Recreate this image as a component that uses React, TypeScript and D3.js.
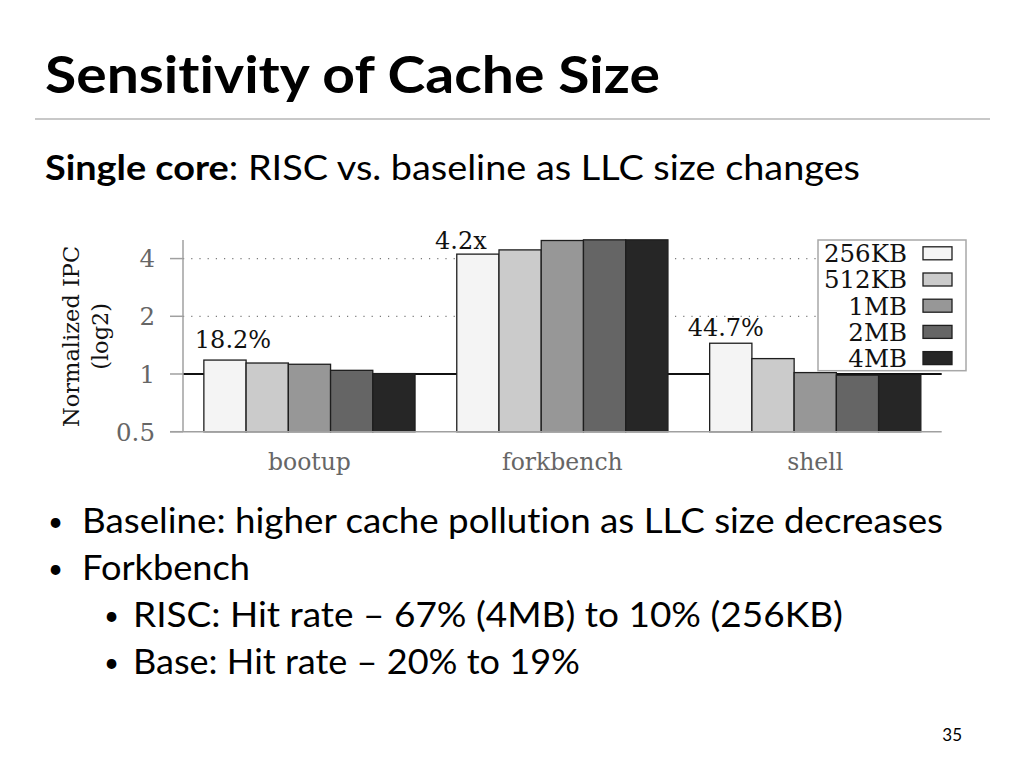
import React from "react";
import * as d3 from "d3";

const categories = ["bootup", "forkbench", "shell"];
const cacheSizes = ["256KB", "512KB", "1MB", "2MB", "4MB"];
const bootupIPC = [1.182, 1.141, 1.124, 1.045, 1.005];
const forkbenchIPC = [4.22, 4.44, 4.97, 5.01, 5.01];
const shellIPC = [1.447, 1.203, 1.017, 0.985, 0.985];
const seriesByCategory = [bootupIPC, forkbenchIPC, shellIPC];
const yTicks = [0.5, 1, 2, 4];
const gridTicks = [2, 4];
const annotations = ["18.2%", "4.2x", "44.7%"];
const annotationDx = [8, -17, -5];
const annotationDy = [-12, -5, -7];
const barColors = ["#f4f4f4", "#cbcbcb", "#979797", "#656565", "#262626"];

const titleText = "Sensitivity of Cache Size";
const bullets = [
  { level: 0, text: "Baseline: higher cache pollution as LLC size decreases", width: 861 },
  { level: 0, text: "Forkbench", width: 168 },
  { level: 1, text: "RISC: Hit rate \u2013 67% (4MB) to 10% (256KB)", width: 710 },
  { level: 1, text: "Base: Hit rate \u2013 20% to 19%", width: 447 },
];

const W = 1024;
const H = 768;
const plot = { left: 183, right: 941.7, top: 240, bottom: 431.7 };
const serif = "'DejaVu Serif', serif";
const sans = "Lato, 'Open Sans', sans-serif";
const noLig = { fontVariantLigatures: "none" as const, fontFeatureSettings: "'liga' 0, 'clig' 0" };

export default function App() {
  const x0 = d3
    .scaleBand<string>()
    .domain(categories)
    .range([plot.left, plot.right])
    .paddingInner(0.165)
    .paddingOuter(0.0825);
  const x1 = d3.scaleBand<string>().domain(cacheSizes).range([0, x0.bandwidth()]);
  const y = d3.scaleLog().base(2).domain([0.5, 5]).range([plot.bottom, plot.top]);

  const legend = { x: 818, y: 240, w: 148, h: 130.7, row: 26.2, first: 253.3 };

  return (
    <svg
      width={W}
      height={H}
      style={{ position: "absolute", left: 0, top: 0, background: "#fff" }}
    >
      {/* Slide title */}
      <text
        x={45}
        y={93}
        fontFamily={sans}
        fontWeight={700}
        fontSize={52}
        textLength={615}
        lengthAdjust="spacingAndGlyphs"
        fill="#000"
        style={noLig}
      >
        {titleText}
      </text>
      <line x1={35} x2={990} y1={119} y2={119} stroke="#c8c8c8" strokeWidth={2} />
      <text
        x={45}
        y={180}
        fontFamily={sans}
        fontSize={35}
        textLength={815}
        lengthAdjust="spacingAndGlyphs"
        fill="#000"
        style={noLig}
      >
        <tspan fontWeight={700}>Single core</tspan>
        <tspan>: RISC vs. baseline as LLC size changes</tspan>
      </text>

      {/* Chart */}
      <g>
        {gridTicks.map((t) => (
          <line
            key={"g" + t}
            x1={plot.left}
            x2={plot.right}
            y1={y(t)}
            y2={y(t)}
            stroke="#7a7a7a"
            strokeWidth={1.2}
            strokeDasharray="1.2,7"
          />
        ))}
        <line
          x1={plot.left}
          x2={plot.right}
          y1={y(1)}
          y2={y(1)}
          stroke="#111"
          strokeWidth={2}
        />
        {categories.map((c, ci) => (
          <g key={c} transform={`translate(${x0(c)},0)`}>
            {seriesByCategory[ci].map((v, si) => (
              <rect
                key={si}
                x={x1(cacheSizes[si])}
                y={y(v)}
                width={x1.bandwidth()}
                height={plot.bottom - y(v)}
                fill={barColors[si]}
                stroke="#1e1e1e"
                strokeWidth={1.3}
              />
            ))}
          </g>
        ))}
        {/* axes */}
        <line
          x1={plot.left}
          x2={plot.left}
          y1={plot.top}
          y2={plot.bottom}
          stroke="#a0a0a0"
          strokeWidth={1.5}
        />
        <line
          x1={170}
          x2={plot.right}
          y1={plot.bottom}
          y2={plot.bottom}
          stroke="#a0a0a0"
          strokeWidth={1.5}
        />
        {yTicks.map((t) => (
          <g key={"t" + t}>
            <line x1={170} x2={plot.left} y1={y(t)} y2={y(t)} stroke="#a0a0a0" strokeWidth={1.5} />
            <text
              x={155}
              y={y(t)}
              dy="0.36em"
              textAnchor="end"
              fontFamily={serif}
              fontSize={24.5}
              fill="#666"
            >
              {String(t)}
            </text>
          </g>
        ))}
        {categories.map((c) => (
          <text
            key={"l" + c}
            x={(x0(c) as number) + x0.bandwidth() / 2}
            y={470}
            textAnchor="middle"
            fontFamily={serif}
            fontSize={23.5}
            fill="#666"
          >
            {c}
          </text>
        ))}
        <text
          transform={`translate(79,${(plot.top + plot.bottom) / 2 + 0.5}) rotate(-90)`}
          textAnchor="middle"
          fontFamily={serif}
          fontSize={22.5}
          fill="#111"
        >
          Normalized IPC
        </text>
        <text
          transform={`translate(107.5,${(plot.top + plot.bottom) / 2 + 0.5}) rotate(-90)`}
          textAnchor="middle"
          fontFamily={serif}
          fontSize={22.5}
          fill="#111"
        >
          (log2)
        </text>
        {categories.map((c, ci) => {
          const v = seriesByCategory[ci][0];
          const cx = (x0(c) as number) + (x1(cacheSizes[0]) as number) + x1.bandwidth() / 2;
          return (
            <text
              key={"a" + c}
              x={cx + annotationDx[ci]}
              y={y(v) + annotationDy[ci]}
              textAnchor="middle"
              fontFamily={serif}
              fontSize={24}
              fill="#111"
            >
              {annotations[ci]}
            </text>
          );
        })}
        {/* legend */}
        <rect
          x={legend.x}
          y={legend.y}
          width={legend.w}
          height={legend.h}
          fill="#fff"
          stroke="#a8a8a8"
          strokeWidth={1.5}
        />
        {cacheSizes.map((s, i) => {
          const cy = legend.first + i * legend.row;
          return (
            <g key={"lg" + s}>
              <text
                x={907}
                y={cy}
                dy="0.36em"
                textAnchor="end"
                fontFamily={serif}
                fontSize={24.5}
                fill="#111"
              >
                {s}
              </text>
              <rect
                x={923}
                y={cy - 6.5}
                width={29}
                height={13}
                fill={barColors[i]}
                stroke="#1e1e1e"
                strokeWidth={1.3}
              />
            </g>
          );
        })}
      </g>

      {/* Bullets */}
      {bullets.map((b, i) => {
        const by = 533 + i * 47;
        const bx = b.level === 0 ? 48 : 104;
        const tx = b.level === 0 ? 82 : 133;
        return (
          <g key={"b" + i}>
            <text x={bx} y={by - 2} fontFamily={sans} fontSize={26} fill="#000">
              {"\u2022"}
            </text>
            <text
              x={tx}
              y={by}
              fontFamily={sans}
              fontSize={35}
              textLength={b.width}
              lengthAdjust="spacingAndGlyphs"
              fill="#000"
              style={noLig}
            >
              {b.text}
            </text>
          </g>
        );
      })}
      <text x={962} y={741} textAnchor="end" fontFamily={sans} fontSize={17} fill="#000">
        35
      </text>
    </svg>
  );
}
